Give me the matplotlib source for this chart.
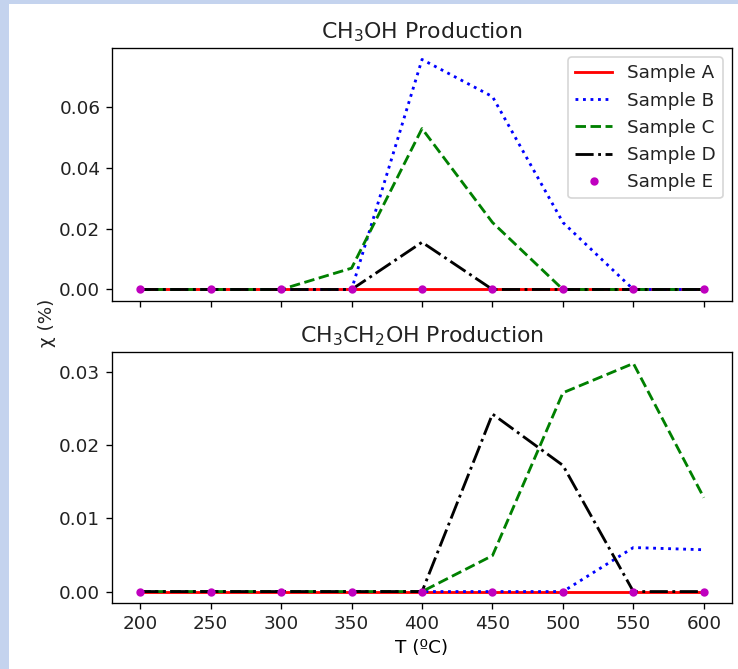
import matplotlib
matplotlib.use("Agg")
import matplotlib.pyplot as plt
from matplotlib.patches import Rectangle

T = [200, 250, 300, 350, 400, 450, 500, 550, 600]

# CH3OH production (%)
meoh_A = [0, 0, 0, 0, 0, 0, 0, 0, 0]
meoh_B = [0, 0, 0, 0, 0.0755, 0.0633, 0.022, 0, 0]
meoh_C = [0, 0, 0, 0.007, 0.0528, 0.022, 0, 0, 0]
meoh_D = [0, 0, 0, 0, 0.0155, 0, 0, 0, 0]
meoh_E = [0, 0, 0, 0, 0, 0, 0, 0, 0]

# CH3CH2OH production (%)
etoh_A = [0, 0, 0, 0, 0, 0, 0, 0, 0]
etoh_B = [0, 0, 0, 0, 0, 0, 0, 0.0060, 0.0057]
etoh_C = [0, 0, 0, 0, 0, 0.0049, 0.0271, 0.0311, 0.0128]
etoh_D = [0, 0, 0, 0, 0, 0.0242, 0.0172, 0, 0]
etoh_E = [0, 0, 0, 0, 0, 0, 0, 0, 0]

labels = ['Sample A', 'Sample B', 'Sample C', 'Sample D', 'Sample E']

plt.rcParams['font.size'] = 11
plt.rcParams['text.color'] = '#222222'
plt.rcParams['xtick.labelcolor'] = '#222222'
plt.rcParams['ytick.labelcolor'] = '#222222'
plt.rcParams['lines.linewidth'] = 1.7

fig = plt.figure(figsize=(6.15, 5.575), dpi=120)
fig.patch.set_facecolor('#c4d3ee')
# white page on the blue frame
fig.patches.append(Rectangle((9/738, 0), 1, 1 - 4/669, transform=fig.transFigure,
                             facecolor='white', edgecolor='none', zorder=-10))

ax1 = fig.add_axes([0.1518, 0.5501, 0.8401, 0.3782])
ax2 = fig.add_axes([0.1518, 0.0987, 0.8401, 0.3751], sharex=ax1)

def draw(ax, a, b, c, d, e):
    ax.plot(T, a, 'r-', label=labels[0])
    ax.plot(T, b, 'b:', label=labels[1])
    ax.plot(T, c, 'g--', label=labels[2])
    ax.plot(T, d, 'k-.', label=labels[3])
    ax.plot(T, e, 'mo', markersize=4, label=labels[4])

draw(ax1, meoh_A, meoh_B, meoh_C, meoh_D, meoh_E)
draw(ax2, etoh_A, etoh_B, etoh_C, etoh_D, etoh_E)

ax1.set_title('CH$_3$OH Production')
ax2.set_title('CH$_3$CH$_2$OH Production')
ax1.legend(loc='upper right')
ax1.tick_params(labelbottom=False)
ax1.set_yticks([0, 0.02, 0.04, 0.06])
ax2.set_yticks([0, 0.01, 0.02, 0.03])
ax2.set_xticks([200, 250, 300, 350, 400, 450, 500, 550, 600])
ax2.set_xlabel('T (ºC)')
fig.text(0.064, 0.517, 'χ (%)', rotation=90, ha='center', va='center')

fig.savefig('out.png', dpi=120, facecolor=fig.get_facecolor())
